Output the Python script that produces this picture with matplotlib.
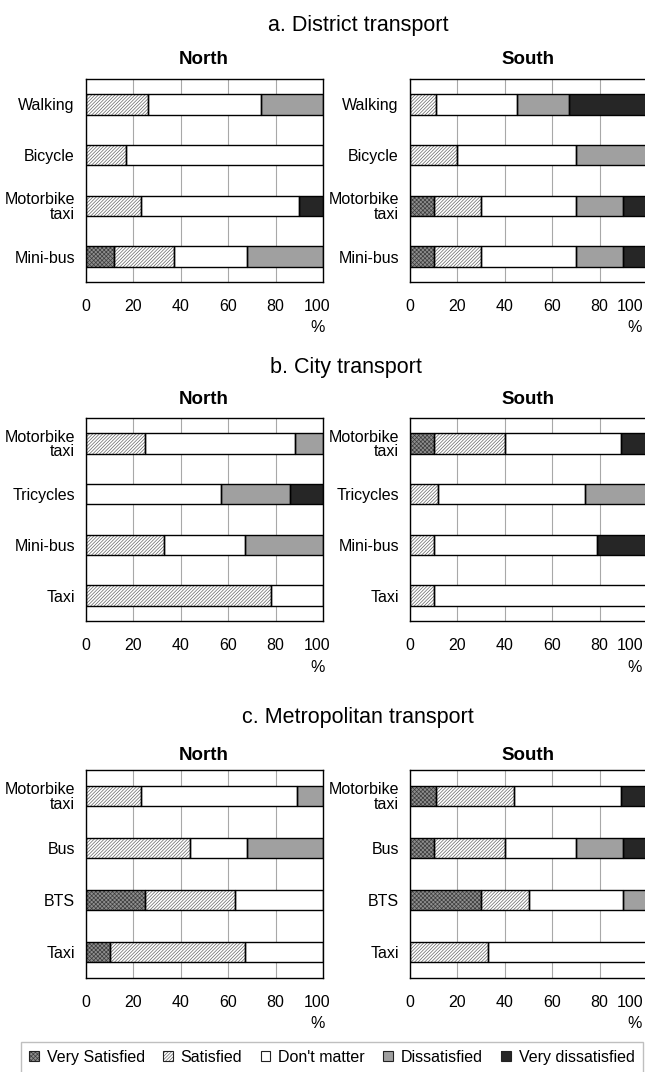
import matplotlib.pyplot as plt
import matplotlib.transforms as mtransforms
from matplotlib.patches import Patch
import numpy as np

plt.rcParams['font.family'] = ['Liberation Sans', 'DejaVu Sans']
plt.rcParams['hatch.linewidth'] = 0.5

levels = ['Very Satisfied', 'Satisfied', "Don't matter", 'Dissatisfied', 'Very dissatisfied']

# rows: very satisfied, satisfied, don't matter, dissatisfied, very dissatisfied
labels_a = ['Walking', 'Bicycle', 'Motorbike\ntaxi', 'Mini-bus']
a_north = [[0, 0, 0, 12], [26, 17, 23, 25], [48, 83, 67, 31], [26, 0, 0, 32], [0, 0, 10, 0]]
a_south = [[0, 0, 10, 10], [11, 20, 20, 20], [34, 50, 40, 40], [22, 30, 20, 20], [33, 0, 10, 10]]

labels_b = ['Motorbike\ntaxi', 'Tricycles', 'Mini-bus', 'Taxi']
b_north = [[0, 0, 0, 0], [25, 0, 33, 78], [63, 57, 34, 22], [12, 29, 33, 0], [0, 14, 0, 0]]
b_south = [[10, 0, 0, 0], [30, 12, 10, 10], [49, 62, 69, 90], [0, 26, 0, 0], [11, 0, 21, 0]]

labels_c = ['Motorbike\ntaxi', 'Bus', 'BTS', 'Taxi']
c_north = [[0, 0, 25, 10], [23, 44, 38, 57], [66, 24, 37, 33], [11, 32, 0, 0], [0, 0, 0, 0]]
c_south = [[11, 10, 30, 0], [33, 30, 20, 33], [45, 30, 40, 67], [0, 20, 10, 0], [11, 10, 0, 0]]

faces = ['#8e8e8e', 'white', 'white', '#a0a0a0', '#262626']
hatch_cols = ['#3c3c3c', '#666666', 'white', '#a0a0a0', '#262626']
hatches = ['xxxxxxxx', '//////////', '', '', '']

W, H = 645, 1072
fig = plt.figure(figsize=(W / 100, H / 100), dpi=100)


def px_axes(x0, x1, top, bottom):
    return fig.add_axes([x0 / W, 1 - bottom / H, (x1 - x0) / W, (bottom - top) / H])


def draw(ax, labels, rows, pct_dx, last_dx):
    y = np.arange(len(labels))
    left = np.zeros(len(labels))
    for vals, face, hc, h in zip(rows, faces, hatch_cols, hatches):
        vals = np.array(vals, float)
        m = vals > 0
        ax.barh(y[m], vals[m], left=left[m], height=0.4, color=face, edgecolor=hc,
                hatch=h, lw=0, zorder=2)
        ax.barh(y[m], vals[m], left=left[m], height=0.4, fill=False,
                edgecolor='black', lw=1, zorder=3)
        left += vals
    ax.set_xlim(0, 100)
    ax.set_ylim(len(labels) - 0.5, -0.5)
    ax.set_yticks(y, labels, fontsize=11.5, linespacing=0.95)
    ax.set_xticks(range(0, 101, 20))
    ax.tick_params(length=0)
    ax.tick_params(axis='x', pad=12, labelsize=11.5)
    ax.tick_params(axis='y', pad=8)
    # the "100" label sits a little left of its gridline
    last = ax.get_xticklabels()[-1]
    last.set_transform(last.get_transform() +
                       mtransforms.ScaledTranslation(last_dx / 100, 0, fig.dpi_scale_trans))
    ax.xaxis.grid(True, color='#a8a8a8', lw=0.8)
    ax.set_axisbelow(True)
    for s in ax.spines.values():
        s.set_color('black')
        s.set_linewidth(1)
    ax.annotate('%', xy=(1, 0), xycoords='axes fraction', xytext=(pct_dx, -46),
                textcoords='offset pixels', ha='right', va='center', fontsize=11.5)


panels = [
    (labels_a, a_north, a_south, 79, 282, 'a. District transport', 358, 25, 60),
    (labels_b, b_north, b_south, 418, 621, 'b. City transport', 346, 367, 400),
    (labels_c, c_north, c_south, 770, 978, 'c. Metropolitan transport', 358, 718, 756),
]

for labels, north, south, top, bottom, title, tx, ty, sy in panels:
    axl = px_axes(86, 323, top, bottom)
    draw(axl, labels, north, 2, -6)
    axr = px_axes(410, 647, top, bottom)
    draw(axr, labels, south, -5, -17)
    fig.text(tx / W, 1 - ty / H, title, ha='center', va='center', fontsize=15.5)
    fig.text(204 / W, 1 - sy / H, 'North', ha='center', va='center', fontsize=13.5, weight='bold')
    fig.text(528 / W, 1 - sy / H, 'South', ha='center', va='center', fontsize=13.5, weight='bold')

handles = []
for face, hc, h in zip(faces, hatch_cols, hatches):
    handles.append((Patch(facecolor=face, edgecolor=hc, hatch=h, lw=0),
                    Patch(fill=False, edgecolor='#222222', lw=0.8)))
fig.legend(handles, levels, loc='upper left', bbox_to_anchor=(21 / W, 1 - 1042 / H),
           ncol=5, frameon=True, fancybox=False, edgecolor='#b0b0b0',
           handlelength=0.6, handleheight=0.6, handletextpad=0.5, columnspacing=1.15,
           borderpad=0.5, borderaxespad=0, fontsize=11.5)

fig.savefig('out.png', dpi=100)
